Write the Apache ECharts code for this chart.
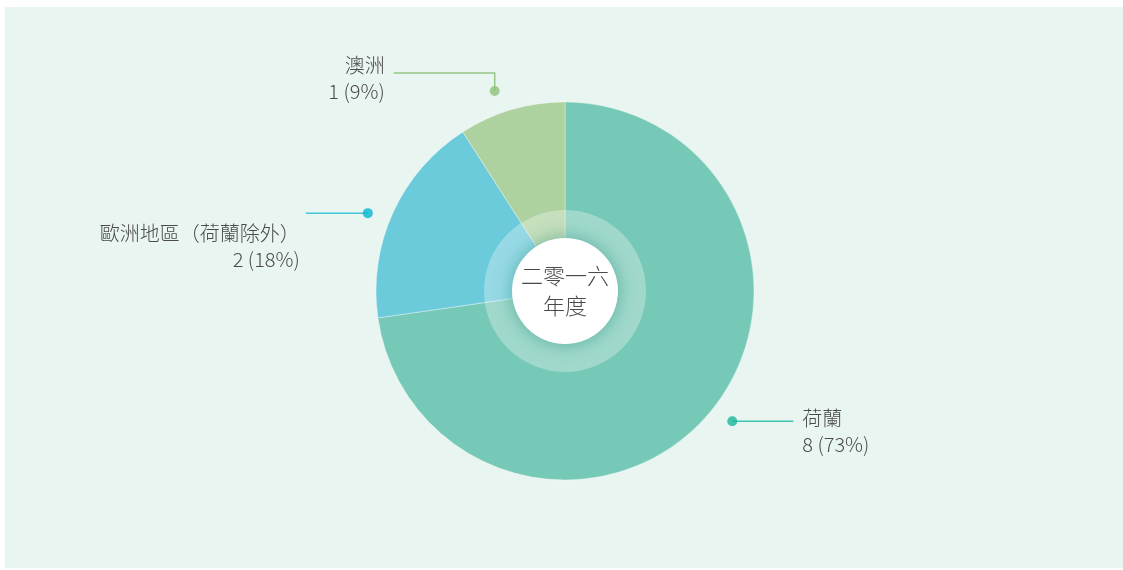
<!DOCTYPE html>
<html>
<head>
<meta charset="utf-8">
<script src="https://cdn.jsdelivr.net/npm/echarts@6/dist/echarts.min.js"></script>
<style>
  html, body { margin: 0; padding: 0; background: #fff; }
  #pie { position: absolute; left: 5px; top: 7px; width: 1118px; height: 561px; }
</style>
</head>
<body>
<div id="pie"></div>
<script>
// 地區與數量
const regions = ['荷蘭', '歐洲地區（荷蘭除外）', '澳洲']
const counts = [8, 2, 1]
const centerText = '二零一六\n年度'

const sliceColors = ['#77c9b7', '#6bcbdb', '#aed1a0']
const lineColors = ['#3ec3ac', '#45c8d9', '#92c884']
const dotColors = ['#17b69b', '#05b7cf', '#8cc47c']

const total = counts.reduce(function (a, b) { return a + b }, 0)
let acc = 0
const mids = [] // 每個扇區中間的角度值
counts.forEach(function (v) {
    mids.push(acc + v / 2)
    acc += v
})

const CX = 560, CY = 284, R = 189, R_LABEL = 212
const LABEL_START = 93 // 標籤圈稍微偏轉
const font = "'Noto Sans CJK TC', 'Noto Sans', sans-serif"

const pieData = regions.map(function (n, i) {
    return { name: n, value: counts[i], itemStyle: { color: sliceColors[i] } }
})
const labelData = regions.map(function (n, i) {
    return {
        name: n, value: counts[i],
        labelLine: { lineStyle: { color: lineColors[i] } }
    }
})

window.myChart = echarts.init(document.getElementById('pie'))

let option = {
    backgroundColor: '#e9f5f0',
    animation: false,
    polar: { center: [CX, CY], radius: R_LABEL },
    angleAxis: { type: 'value', min: 0, max: total, startAngle: LABEL_START, clockwise: true, show: false },
    radiusAxis: { type: 'value', min: 0, max: R_LABEL, show: false },
    series: [
        {
            type: 'pie',
            center: [CX, CY],
            radius: [0, R],
            startAngle: 90,
            silent: true,
            label: { show: false },
            labelLine: { show: false },
            itemStyle: { borderColor: 'rgba(255,255,255,0.35)', borderWidth: 1 },
            data: pieData
        },
        {
            // 只用來放標籤與引線
            type: 'pie',
            center: [CX, CY],
            radius: [R_LABEL - 1, R_LABEL],
            startAngle: LABEL_START,
            silent: true,
            percentPrecision: 0,
            itemStyle: { color: 'rgba(0,0,0,0)' },
            label: {
                show: true,
                formatter: '{b}\n{c} ({d}%)',
                fontFamily: font,
                fontSize: 20,
                fontWeight: 300,
                lineHeight: 26,
                color: '#4a4a4a'
            },
            labelLine: { show: true, length: 20, length2: 60, lineStyle: { width: 1.5 } },
            labelLayout: function (p) {
                const s = p.labelLinePoints ? p.labelLinePoints[0] : [0, 0]
                const x = s[0], y = s[1]
                if (p.dataIndex === 0) {
                    return {
                        x: x + 70, y: y + 10, align: 'left', verticalAlign: 'middle',
                        labelLinePoints: [[x, y], [x + 30, y], [x + 61, y]]
                    }
                } else if (p.dataIndex === 1) {
                    return {
                        x: x - 68, y: y + 33, align: 'right', verticalAlign: 'middle',
                        labelLinePoints: [[x, y], [x - 30, y], [x - 62, y]]
                    }
                }
                return {
                    x: x - 110, y: y - 13, align: 'right', verticalAlign: 'middle',
                    labelLinePoints: [[x, y], [x, y - 18], [x - 101, y - 18]]
                }
            },
            data: labelData
        },
        {
            type: 'pie',
            center: [CX, CY],
            radius: [0, 81],
            silent: true,
            label: { show: false },
            itemStyle: { color: 'rgba(255,255,255,0.3)' },
            data: [{ value: 1 }]
        },
        {
            type: 'pie',
            center: [CX, CY],
            radius: [0, 53],
            silent: true,
            itemStyle: {
                color: '#fff',
                shadowBlur: 18,
                shadowColor: 'rgba(30,140,120,0.55)'
            },
            label: {
                show: true,
                position: 'center',
                formatter: centerText,
                fontFamily: font,
                fontSize: 22,
                fontWeight: 300,
                lineHeight: 30,
                padding: [14, 0, 0, 0],
                color: '#4a4a4a'
            },
            data: [{ value: 1 }]
        },
        {
            type: 'scatter',
            coordinateSystem: 'polar',
            symbol: 'circle',
            symbolSize: 10,
            silent: true,
            clip: false,
            z: 5,
            itemStyle: {
                color: function (p) { return dotColors[p.dataIndex] }
            },
            data: mids.map(function (m) { return [R_LABEL, m] })
        }
    ]
}
myChart.setOption(option)
</script>
</body>
</html>
